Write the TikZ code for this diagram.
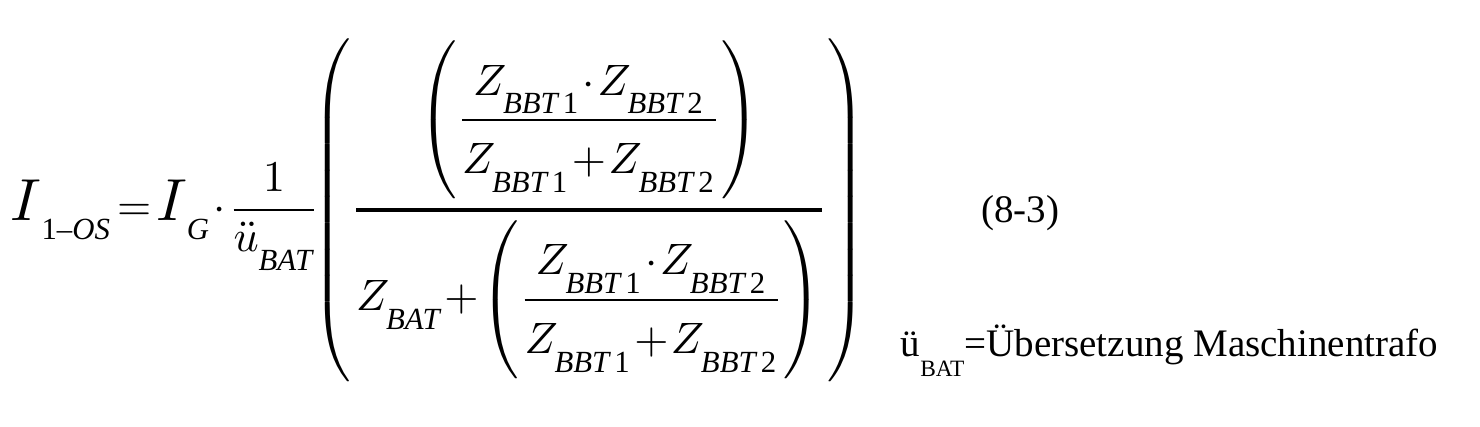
\documentclass[tikz,border=0pt]{standalone}
\usepackage{amsmath,amssymb}
\usepackage[no-math]{fontspec}
\setmainfont{Liberation Serif}
\usepackage{tikz}
\usetikzlibrary{positioning}

% Klammern immer so hoch wie der Inhalt
\delimitershortfall=0pt
\delimiterfactor=1000
% Index tiefer gesetzt, kleine kursive Schrift
\newcommand{\idx}[2]{{#1}_{\lower2.8pt\hbox{\fontsize{7}{8}\selectfont\itshape #2}}}
\newcommand{\bigI}{\scalebox{1.35}{$I$}}
\newcommand{\hoch}{\rule[-1.5pt]{0pt}{12.3pt}}
\newcommand{\parZ}{\left( \dfrac{\idx{Z}{BBT\,\upshape 1} \!\cdot\! \idx{Z}{BBT\,\upshape 2}}{\hoch\idx{Z}{BBT\,\upshape 1} \!+\! \idx{Z}{BBT\,\upshape 2}} \right)}

\begin{document}
\begin{tikzpicture}[formel/.style={inner sep=0pt, scale=1.25, transform shape},
                    txt/.style={inner sep=0pt, scale=1.11, transform shape}]
\useasboundingbox (0,0) rectangle (14.8,4.27);
\node [formel, anchor=west] (eq) at (0.10,2.17) {$\displaystyle
\idx{\bigI}{\upshape 1--\itshape OS} \!=\! \idx{\bigI}{G} \!\cdot\! \frac{\;1\;}{\idx{\ddot{u}}{BAT}}\!\!
\left( \genfrac{}{}{0.7pt}{0}{\parZ}{\idx{Z}{BAT} \!+\! \parZ} \right)$};
\node [txt] (nr) at (10.2,2.14) {(8-3)};
\node [txt, anchor=base west] (note) at (9.0,0.70) {ü\raisebox{-5pt}{\fontsize{6}{7}\selectfont BAT}=Übersetzung Maschinentrafo};
\end{tikzpicture}
\end{document}
